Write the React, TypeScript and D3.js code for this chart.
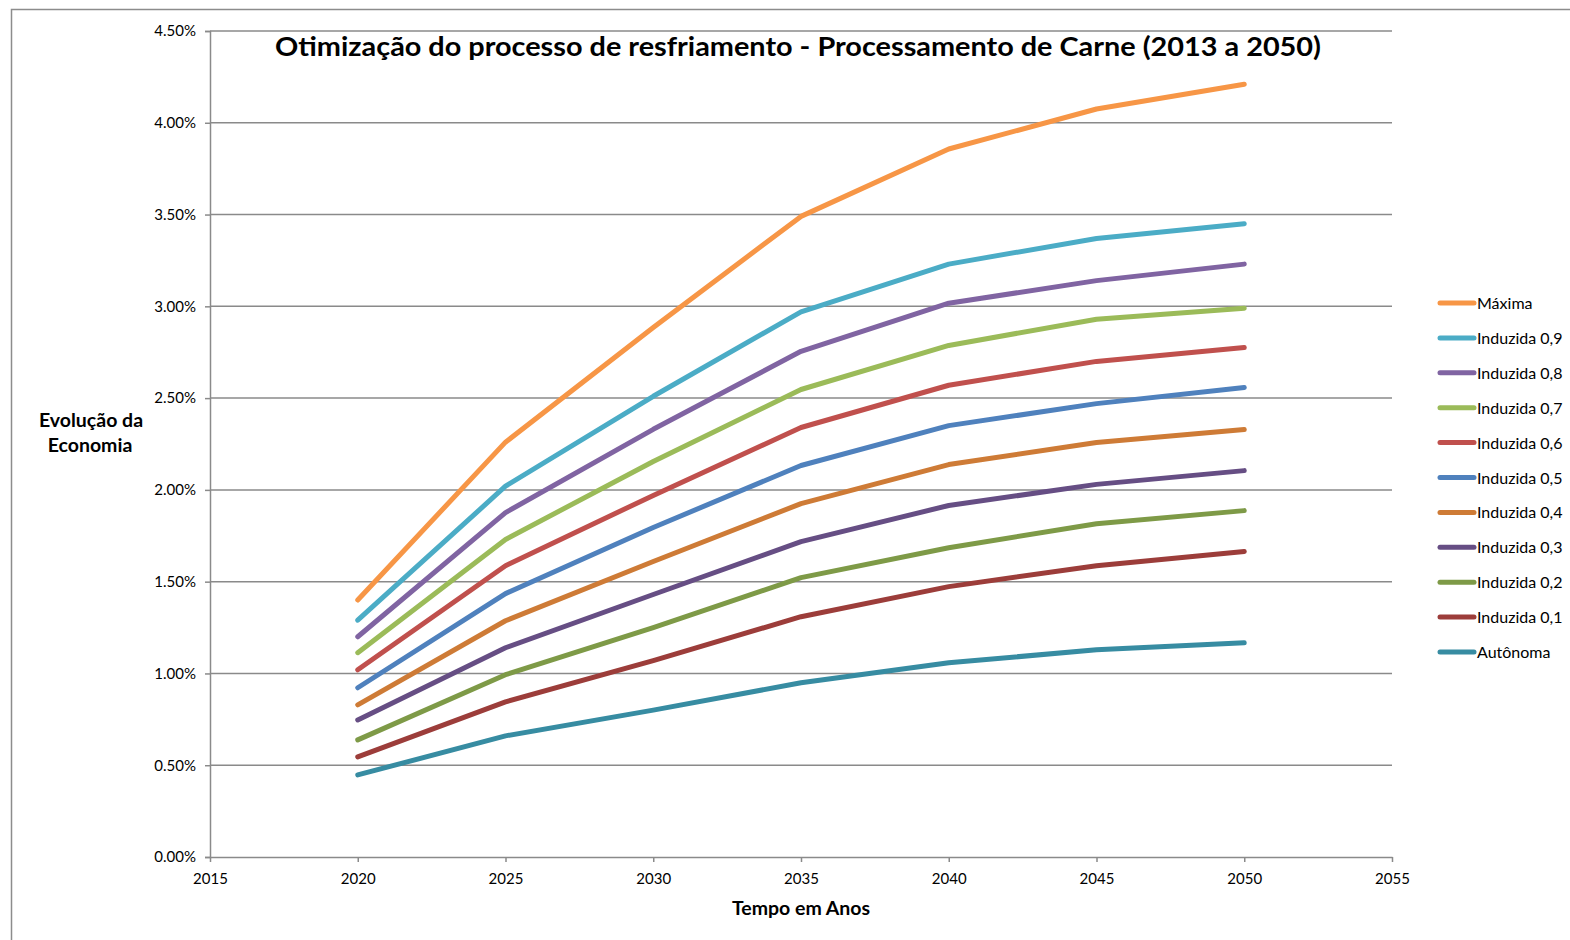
import { useEffect, useRef } from "react";
import * as d3 from "d3";

const years = [2020, 2025, 2030, 2035, 2040, 2045, 2050];

const seriesNames = [
  "Máxima",
  "Induzida 0,9",
  "Induzida 0,8",
  "Induzida 0,7",
  "Induzida 0,6",
  "Induzida 0,5",
  "Induzida 0,4",
  "Induzida 0,3",
  "Induzida 0,2",
  "Induzida 0,1",
  "Autônoma",
];

const maxima = [1.4, 2.26, 2.885, 3.49, 3.857, 4.075, 4.21];
const induzida09 = [1.29, 2.02, 2.51, 2.97, 3.23, 3.37, 3.45];
const induzida08 = [1.2, 1.876, 2.33, 2.755, 3.017, 3.14, 3.23];
const induzida07 = [1.113, 1.73, 2.155, 2.547, 2.787, 2.93, 2.99];
const induzida06 = [1.02, 1.587, 1.97, 2.34, 2.57, 2.7, 2.776];
const induzida05 = [0.922, 1.435, 1.795, 2.133, 2.35, 2.47, 2.558];
const induzida04 = [0.829, 1.287, 1.61, 1.925, 2.138, 2.258, 2.329];
const induzida03 = [0.747, 1.14, 1.43, 1.718, 1.915, 2.03, 2.105];
const induzida02 = [0.638, 0.993, 1.25, 1.522, 1.685, 1.816, 1.887];
const induzida01 = [0.545, 0.845, 1.07, 1.309, 1.473, 1.587, 1.664];
const autonoma = [0.447, 0.66, 0.8, 0.949, 1.058, 1.129, 1.167];

const seriesValues = [
  maxima,
  induzida09,
  induzida08,
  induzida07,
  induzida06,
  induzida05,
  induzida04,
  induzida03,
  induzida02,
  induzida01,
  autonoma,
];

const colors = [
  "#F79646",
  "#4BACC6",
  "#8064A2",
  "#9BBB59",
  "#C0504D",
  "#4F81BD",
  "#CE7B36",
  "#664E84",
  "#7E9A47",
  "#9C3D3A",
  "#378CA2",
];

const yTicks = [0, 0.5, 1, 1.5, 2, 2.5, 3, 3.5, 4, 4.5];
const xTicks = [2015, 2020, 2025, 2030, 2035, 2040, 2045, 2050, 2055];

const FONT = "Lato, 'Open Sans', sans-serif";

export default function App() {
  const ref = useRef<SVGSVGElement | null>(null);

  useEffect(() => {
    const width = 1570;
    const height = 940;
    const margin = { top: 31, right: 178, bottom: 83, left: 210 };

    const svg = d3.select(ref.current);
    svg.selectAll("*").remove();

    svg.append("rect").attr("width", width).attr("height", height).attr("fill", "#fff");

    // outer chart border (only left/top visible)
    svg
      .append("path")
      .attr("d", `M11.5,${height} V9.5 H${width}`)
      .attr("fill", "none")
      .attr("stroke", "#8c8c8c")
      .attr("stroke-width", 1.5);

    const x = d3
      .scaleLinear()
      .domain([2015, 2055])
      .range([margin.left, width - margin.right]);
    const y = d3
      .scaleLinear()
      .domain([0, 4.5])
      .range([height - margin.bottom, margin.top]);

    // gridlines
    svg
      .append("g")
      .selectAll("line")
      .data(yTicks.slice(1))
      .join("line")
      .attr("x1", x(2015))
      .attr("x2", x(2055))
      .attr("y1", (d) => y(d))
      .attr("y2", (d) => y(d))
      .attr("stroke", "#8a8a8a")
      .attr("stroke-width", 1.5);

    svg
      .append("g")
      .attr("transform", `translate(${x(2015)},0)`)
      .call(
        d3
          .axisLeft(y)
          .tickValues(yTicks)
          .tickSize(5)
          .tickPadding(9)
          .tickFormat((d) => `${(+d).toFixed(2)}%`),
      )
      .call((g) => g.selectAll("path,line").attr("stroke", "#8a8a8a").attr("stroke-width", 1.5))
      .call((g) =>
        g
          .selectAll("text")
          .attr("fill", "#000")
          .attr("font-size", 15)
          .attr("font-family", FONT),
      );

    svg
      .append("g")
      .attr("transform", `translate(0,${y(0)})`)
      .call(
        d3
          .axisBottom(x)
          .tickValues(xTicks)
          .tickSize(5)
          .tickSizeOuter(0)
          .tickPadding(11)
          .tickFormat(d3.format("d")),
      )
      .call((g) => g.selectAll("path,line").attr("stroke", "#8a8a8a").attr("stroke-width", 1.5))
      .call((g) =>
        g
          .selectAll("text")
          .attr("fill", "#000")
          .attr("font-size", 15)
          .attr("font-family", FONT),
      );

    const line = d3
      .line<number>()
      .x((_, i) => x(years[i]))
      .y((d) => y(d));

    svg
      .append("g")
      .selectAll("path")
      .data(seriesValues.slice().reverse())
      .join("path")
      .attr("d", (d) => line(d))
      .attr("fill", "none")
      .attr("stroke", (_, i) => colors[colors.length - 1 - i])
      .attr("stroke-width", 5)
      .attr("stroke-linecap", "round")
      .attr("stroke-linejoin", "round");

    // title
    svg
      .append("text")
      .attr("x", 798)
      .attr("y", 56)
      .attr("text-anchor", "middle")
      .attr("font-family", FONT)
      .attr("font-weight", "bold")
      .attr("font-size", 26)
      .attr("textLength", 1046)
      .attr("lengthAdjust", "spacingAndGlyphs")
      .text("Otimização do processo de resfriamento - Processamento de Carne (2013 a 2050)");

    // axis titles
    const yt = svg
      .append("text")
      .attr("text-anchor", "middle")
      .attr("font-family", FONT)
      .attr("font-weight", "bold")
      .attr("font-size", 19.5);
    yt.append("tspan").attr("x", 91).attr("y", 427).text("Evolução da");
    yt.append("tspan").attr("x", 90).attr("y", 452).text("Economia");

    svg
      .append("text")
      .attr("x", 801)
      .attr("y", 915)
      .attr("text-anchor", "middle")
      .attr("font-family", FONT)
      .attr("font-weight", "bold")
      .attr("font-size", 19.5)
      .text("Tempo em Anos");

    // legend
    const legend = svg
      .append("g")
      .selectAll("g")
      .data(seriesNames)
      .join("g")
      .attr("transform", (_, i) => `translate(1440,${303 + i * 34.9})`);
    legend
      .append("line")
      .attr("x1", 0)
      .attr("x2", 34)
      .attr("stroke", (_, i) => colors[i])
      .attr("stroke-width", 5)
      .attr("stroke-linecap", "round");
    legend
      .append("text")
      .attr("x", 37)
      .attr("y", 6)
      .attr("font-family", FONT)
      .attr("font-size", 16)
      .text((d) => d);
  }, []);

  return (
    <svg
      ref={ref}
      width={1570}
      height={940}
      style={{ position: "absolute", left: 0, top: 0, display: "block" }}
    />
  );
}
